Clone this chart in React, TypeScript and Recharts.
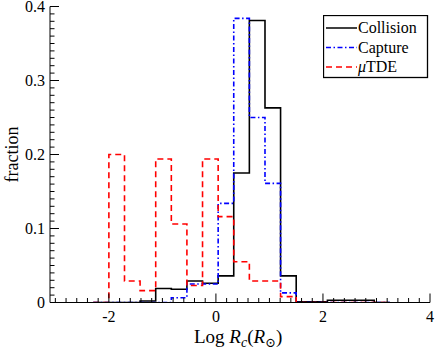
import React from "react";
import { LineChart, Line, XAxis, YAxis, Legend } from "recharts";

// bin edges in log R_c (first one is an empty leading bin)
const edges = [
  -2.292, -2, -1.708, -1.417, -1.125, -0.833, -0.542, -0.25, 0.042, 0.333, 0.625, 0.917, 1.208,
  1.5, 1.792, 2.083, 2.375, 2.667, 2.958, 3.25,
];
const collision = [0, 0, 0, 0.002, 0.019, 0.018, 0.029, 0.026, 0.036, 0.175, 0.381, 0.263, 0.036, 0.001, 0.001, 0.003, 0.003, 0.003, 0];
const capture = [0, 0, 0, 0, 0, 0.0065, 0.025, 0.025, 0.134, 0.384, 0.25, 0.161, 0.013, 0, 0, 0, 0, 0, 0];
const tde = [0, 0.2, 0.029, 0.016, 0.194, 0.106, 0.023, 0.194, 0.116, 0.055, 0.029, 0.029, 0.008, 0, 0, 0, 0, 0, 0];

const xMajor = [-2, 0, 2, 4];
const yMajor = [0, 0.1, 0.2, 0.3, 0.4];
const seriesNames = ["Collision", "Capture", "μTDE"];

// stepAfter rows: each edge carries the value of the bin to its right, last edge drops to 0
const rows = edges.map((x, i) => ({
  x,
  collision: i < collision.length ? collision[i] : 0,
  capture: i < capture.length ? capture[i] : 0,
  tde: i < tde.length ? tde[i] : 0,
}));

const xTicks = Array.from({ length: 36 }, (_, i) => (i - 15) / 5);
const yTicks = Array.from({ length: 41 }, (_, i) => i / 100);

const FONT = "Liberation Serif, Times New Roman, DejaVu Serif, serif";
const txt = (size: number): React.CSSProperties => ({ fontFamily: FONT, fontSize: size });
const isMajorX = (v: number) => xMajor.some((m) => Math.abs(m - v) < 1e-6);
const isMajorY = (v: number) => yMajor.some((m) => Math.abs(m - v) < 1e-6);

const BottomTick = (p: any) => {
  const v = p.payload.value;
  const major = isMajorX(v);
  return (
    <g>
      <line x1={p.x} x2={p.x} y1={p.y} y2={p.y - (major ? 9 : 4.5)} stroke="#000" />
      {major && (
        <text x={p.x} y={p.y + 19.5} textAnchor="middle" style={txt(16)} fill="#000">
          {String(v)}
        </text>
      )}
    </g>
  );
};

const TopTick = (p: any) => {
  const major = isMajorX(p.payload.value);
  return <line x1={p.x} x2={p.x} y1={p.y} y2={p.y + (major ? 9 : 4.5)} stroke="#000" />;
};

const LeftTick = (p: any) => {
  const v = p.payload.value;
  const major = isMajorY(v);
  return (
    <g>
      <line x1={p.x} x2={p.x + (major ? 9 : 4.5)} y1={p.y} y2={p.y} stroke="#000" />
      {major && (
        <text x={p.x - 5} y={p.y + 5.5} textAnchor="end" style={txt(16)} fill="#000">
          {v === 0 ? "0" : v.toFixed(1)}
        </text>
      )}
    </g>
  );
};

const RightTick = (p: any) => {
  const major = isMajorY(p.payload.value);
  return <line x1={p.x} x2={p.x - (major ? 9 : 4.5)} y1={p.y} y2={p.y} stroke="#000" />;
};

const XLabel = (props: any) => {
  const vb = props.viewBox;
  const left = vb.x + vb.width / 2 - 46;
  return (
    <text x={left} y={vb.y + 40} style={txt(19)} fill="#000">
      {"Log "}
      <tspan fontStyle="italic">R</tspan>
      <tspan fontStyle="italic" style={txt(14)} dy={4}>c</tspan>
      <tspan dy={-4}>(</tspan>
      <tspan fontStyle="italic">R</tspan>
      <tspan style={txt(13)} dy={4}>⊙</tspan>
      <tspan dy={-4}>)</tspan>
    </text>
  );
};

const YLabel = (props: any) => {
  const vb = props.viewBox;
  const cy = vb.y + vb.height / 2;
  return (
    <text x={18} y={cy} transform={`rotate(-90, 18, ${cy})`} textAnchor="middle" style={txt(18)} fill="#000">
      fraction
    </text>
  );
};

const LegendBox = (props: any) => {
  const items = [...(props.payload || [])].sort(
    (a: any, b: any) => seriesNames.indexOf(String(a.value)) - seriesNames.indexOf(String(b.value))
  );
  return (
    <svg width={106} height={64} style={{ display: "block" }}>
      <rect x={0.5} y={0.5} width={104} height={62} fill="#fff" stroke="#000" strokeWidth={1.3} />
      {items.map((it: any, i: number) => {
        const y = 13 + i * 19.5;
        const name = String(it.value);
        return (
          <g key={name}>
            <line
              x1={3}
              x2={34}
              y1={y}
              y2={y}
              stroke={it.color}
              strokeWidth={1.5}
              strokeDasharray={it.payload?.strokeDasharray}
            />
            <text x={35} y={y + 5} style={txt(16)} fill="#000">
              {name.startsWith("μ") ? (
                <>
                  <tspan fontStyle="italic">μ</tspan>
                  {name.slice(1)}
                </>
              ) : (
                name
              )}
            </text>
          </g>
        );
      })}
    </svg>
  );
};

export default function App() {
  return (
    <div style={{ position: "absolute", left: 0, top: 0, background: "#fff" }}>
      <LineChart width={436} height={351} data={rows} margin={{ top: 6.5, right: 6, bottom: 0, left: 0 }}>
        <XAxis
          dataKey="x"
          type="number"
          domain={[-3.1, 4]}
          allowDataOverflow
          ticks={xTicks}
          interval={0}
          tickSize={0}
          tickMargin={0}
          tickLine={false}
          tick={BottomTick}
          axisLine={{ stroke: "#000" }}
          height={48.5}
          label={{ content: XLabel }}
        />
        <XAxis
          xAxisId="top"
          orientation="top"
          type="number"
          domain={[-3.1, 4]}
          allowDataOverflow
          ticks={xTicks}
          interval={0}
          tickSize={0}
          tickMargin={0}
          tickLine={false}
          tick={TopTick}
          axisLine={{ stroke: "#000" }}
          height={0}
        />
        <YAxis
          type="number"
          domain={[0, 0.4]}
          allowDataOverflow
          ticks={yTicks}
          interval={0}
          tickSize={0}
          tickMargin={0}
          tickLine={false}
          tick={LeftTick}
          axisLine={{ stroke: "#000" }}
          width={50}
          label={{ content: YLabel }}
        />
        <YAxis
          yAxisId="right"
          orientation="right"
          type="number"
          domain={[0, 0.4]}
          allowDataOverflow
          ticks={yTicks}
          interval={0}
          tickSize={0}
          tickMargin={0}
          tickLine={false}
          tick={RightTick}
          axisLine={{ stroke: "#000" }}
          width={0}
        />
        <Legend
          layout="vertical"
          align="center"
          verticalAlign="middle"
          content={LegendBox}
          wrapperStyle={{ left: 323, top: 15, width: 106, height: 64 }}
        />
        <Line
          type="stepAfter"
          dataKey="collision"
          name={seriesNames[0]}
          stroke="#000000"
          strokeWidth={1.6}
          dot={false}
          isAnimationActive={false}
        />
        <Line
          type="stepAfter"
          dataKey="capture"
          name={seriesNames[1]}
          stroke="#0000ff"
          strokeWidth={1.6}
          strokeDasharray="5 2.5 1.5 2.5"
          dot={false}
          isAnimationActive={false}
        />
        <Line
          type="stepAfter"
          dataKey="tde"
          name={seriesNames[2]}
          stroke="#ff0000"
          strokeWidth={1.6}
          strokeDasharray="6 4"
          dot={false}
          isAnimationActive={false}
        />
      </LineChart>
    </div>
  );
}
